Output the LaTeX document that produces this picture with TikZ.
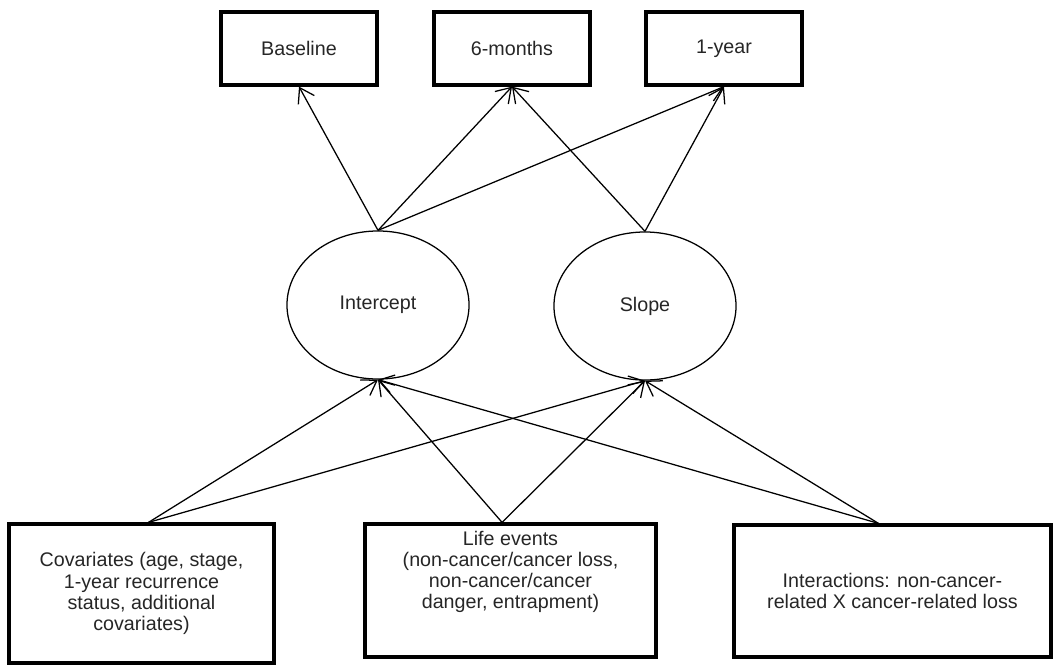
\documentclass[tikz,border=0pt]{standalone}
\usepackage{fontspec}
\setmainfont{Liberation Sans}
\usetikzlibrary{arrows.meta, shapes.geometric}

\begin{document}
\begin{tikzpicture}[x=0.025cm, y=-0.025cm]
\tikzstyle{every node}=[font=\fontsize{14}{15}\selectfont, text=black!85]
\tikzstyle{box}=[rectangle, draw, line width=2.3pt, align=center, inner sep=0pt]
\tikzstyle{lat}=[ellipse, draw, line width=0.9pt, inner sep=0pt,
                        minimum width=4.55cm, minimum height=3.7cm]
\tikzstyle{arr}=[-{Straight Barb[length=10pt, width=13pt]}, line width=0.9pt]
\useasboundingbox (0,0) rectangle (1053,667);
	% time points
	\node[box, minimum width=3.9cm, minimum height=1.825cm] (B) at (299,48.5){Baseline};
	\node[box, minimum width=3.9cm, minimum height=1.825cm] (M) at (512,48.5){6-months};
	\node[box, minimum width=3.9cm, minimum height=1.825cm] (Y) at (724,48.5){1-year};
	% growth factors
	\node[lat] (I) at (378,305){Intercept};
	\node[lat] (S) at (645,306){Slope};
	% predictors
	\node[box, minimum width=6.625cm, minimum height=3.475cm] (C) at (141.5,593.5)
		{Covariates (age, stage,\\1-year recurrence\\status, additional\\covariates)};
	\node[box, minimum width=7.275cm, minimum height=3.325cm] (L) at (510.5,590.5){};
	\node[align=center] (Lt) at (510.5,572)
		{Life events\\(non-cancer/cancer loss,\\non-cancer/cancer\\danger, entrapment)};
	\node[box, minimum width=7.925cm, minimum height=3.3cm] (N) at (892.5,591)
		{Interactions: non-cancer-\\related X cancer-related loss};
\draw[arr] (I.north)--(B.south);
\draw[arr] (I.north)--(M.south);
\draw[arr] (I.north)--(Y.south);
\draw[arr] (S.north)--(M.south);
\draw[arr] (S.north)--(Y.south);
\draw[arr] ([xshift=5pt]C.north)--(I.south);
\draw[arr] ([xshift=5pt]C.north)--(S.south);
\draw[arr] ([xshift=-6pt]L.north)--(I.south);
\draw[arr] ([xshift=-6pt]L.north)--(S.south);
\draw[arr] ([xshift=-10pt]N.north)--(I.south);
\draw[arr] ([xshift=-10pt]N.north)--(S.south);
\end{tikzpicture}
\end{document}
